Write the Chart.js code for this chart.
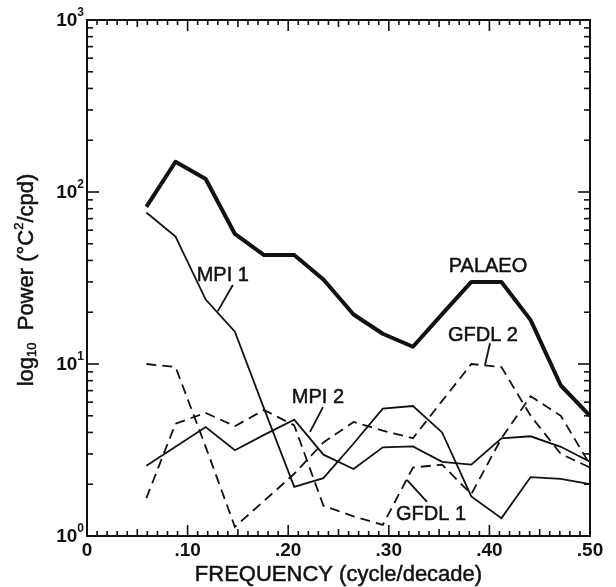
<!DOCTYPE html>
<html><head><meta charset="utf-8">
<script src="https://cdn.jsdelivr.net/npm/chart.js@4.4.0/dist/chart.umd.min.js"></script>
<style>html,body{margin:0;padding:0;background:#fff}#c{display:block}</style>
</head><body>
<div style="width:616px;height:587px;position:relative"><canvas id="c" width="616" height="587"></canvas></div>
<script>
// ---- data ----
const frequency = [0.059, 0.088, 0.118, 0.147, 0.176, 0.206, 0.235, 0.265, 0.294, 0.324, 0.353, 0.382, 0.412, 0.441, 0.471, 0.500];
const palaeo = [82, 150, 119, 57, 43, 43, 31, 19.4, 15, 12.6, 19.5, 30, 30, 18, 7.5, 5.0];
const mpi1   = [76, 55, 23.7, 15.4, 5.5, 1.93, 2.17, 3.45, 5.5, 5.7, 4.0, 1.7, 1.27, 2.2, 2.15, 2.0];
const mpi2   = [2.56, 3.3, 4.3, 3.15, 3.87, 4.75, 2.97, 2.45, 3.28, 3.32, 2.7, 2.6, 3.7, 3.8, 3.3, 2.7];
const gfdl1  = [1.66, 4.5, 5.2, 4.35, 5.4, 4.4, 1.5, 1.3, 1.16, 2.5, 2.6, 1.75, 3.7, 6.5, 5.0, 2.6];
const gfdl2  = [10, 9.6, 3.3, 1.13, 1.6, 2.3, 3.5, 4.6, 4.1, 3.7, 6.1, 10, 9.6, 5.0, 3.0, 2.5];

const xTickValues = [0, 0.1, 0.2, 0.3, 0.4, 0.5];
const xTickLabels = ['0', '.10', '.20', '.30', '.40', '.50'];
const yTickValues = [1, 10, 100, 1000];
const yTickExponents = ['0', '1', '2', '3'];
const xTitle = 'FREQUENCY (cycle/decade)';

// in-plot labels, anchored in data coordinates: [text, x, y, leaderFrom(x,y), leaderTo(x,y)]
const seriesLabels = [
  ['PALAEO', 0.3986, 37.1, null, null],
  ['MPI 1', 0.135, 32.9, [0.145, 28.8], [0.130, 20.3]],
  ['MPI 2', 0.2296, 6.43, [0.2346, 5.62], [0.2217, 4.03]],
  ['GFDL 1', 0.342, 1.34, [0.338, 1.58], [0.318, 2.12]],
  ['GFDL 2', 0.3936, 14.7, [0.4006, 13.2], [0.3956, 9.86]]
];

const INK = '#111';
const FONT = '"Liberation Sans", Arial, Helvetica, sans-serif';
function pts(ys) { return frequency.map((f, i) => ({x: f, y: ys[i]})); }

const decor = {
  id: 'decor',
  afterDraw(chart) {
    const {ctx, chartArea: a, scales: {x, y}} = chart;
    const line = (x1, y1, x2, y2) => { ctx.beginPath(); ctx.moveTo(x1, y1); ctx.lineTo(x2, y2); ctx.stroke(); };
    const heavyText = (t, px, py) => { ctx.fillText(t, px, py); ctx.lineWidth = 0.5; ctx.strokeText(t, px, py); };
    ctx.save();
    ctx.strokeStyle = INK; ctx.fillStyle = INK; ctx.lineCap = 'butt';
    // frame
    ctx.lineWidth = 2;
    ctx.strokeRect(a.left, a.top, a.right - a.left, a.bottom - a.top);
    // x ticks (inward, bottom and top)
    ctx.lineWidth = 1.6;
    for (let i = 0; i <= 50; i++) {
      const px = x.getPixelForValue(i / 100);
      const len = i % 10 === 0 ? 11 : (i % 5 === 0 ? 7 : 5);
      line(px, a.bottom, px, a.bottom - len);
      line(px, a.top, px, a.top + len);
    }
    // y ticks (inward, left and right)
    for (let d = 0; d < 3; d++) {
      for (let m = 1; m <= 9; m++) {
        const py = y.getPixelForValue(m * Math.pow(10, d));
        const len = m === 1 ? 12 : 6;
        line(a.left, py, a.left + len, py);
        line(a.right, py, a.right - len, py);
      }
    }
    // x tick labels
    ctx.font = 'bold 19px ' + FONT;
    ctx.textAlign = 'center'; ctx.textBaseline = 'middle';
    xTickValues.forEach((v, i) => ctx.fillText(xTickLabels[i], x.getPixelForValue(v), a.bottom + 15));
    // y tick labels 10^n
    yTickValues.forEach((v, i) => {
      const py = y.getPixelForValue(v);
      ctx.font = 'bold 12px ' + FONT;
      const ew = ctx.measureText(yTickExponents[i]).width;
      ctx.textAlign = 'right'; ctx.textBaseline = 'middle';
      ctx.fillText(yTickExponents[i], a.left - 3, py - 7);
      ctx.font = 'bold 19px ' + FONT;
      ctx.fillText('10', a.left - 3 - ew, py + 1);
    });
    // x title
    ctx.font = '22px ' + FONT;
    ctx.textAlign = 'center'; ctx.textBaseline = 'middle';
    heavyText(xTitle, (a.left + a.right) / 2, 575);
    // y title (rotated, rich text)
    const parts = [
      {t: 'log', s: 22, dy: 0},
      {t: '10', s: 13, dy: 5},
      {t: '  Power (°C', s: 22, dy: 0},
      {t: '2', s: 13, dy: -8},
      {t: '/cpd)', s: 22, dy: 0}
    ];
    let total = 0;
    parts.forEach(p => { ctx.font = p.s + 'px ' + FONT; p.w = ctx.measureText(p.t).width; total += p.w; });
    ctx.save();
    ctx.translate(27, (a.top + a.bottom) / 2 + 2);
    ctx.rotate(-Math.PI / 2);
    ctx.textAlign = 'left'; ctx.textBaseline = 'middle';
    let cx = -total / 2;
    parts.forEach(p => { ctx.font = p.s + 'px ' + FONT; heavyText(p.t, cx, p.dy); cx += p.w; });
    ctx.restore();
    // series labels with leader lines
    ctx.font = '20px ' + FONT;
    ctx.textAlign = 'center'; ctx.textBaseline = 'middle';
    seriesLabels.forEach(([t, lx, ly, f, to]) => {
      heavyText(t, x.getPixelForValue(lx), y.getPixelForValue(ly));
      ctx.lineWidth = 1.8;
      if (f) line(x.getPixelForValue(f[0]), y.getPixelForValue(f[1]), x.getPixelForValue(to[0]), y.getPixelForValue(to[1]));
    });
    ctx.restore();
  }
};

const common = {pointRadius: 0, tension: 0, borderColor: INK, fill: false};
new Chart(document.getElementById('c'), {
  type: 'line',
  data: {
    datasets: [
      {...common, label: 'PALAEO', data: pts(palaeo), borderWidth: 4, borderJoinStyle: 'round'},
      {...common, label: 'MPI 1', data: pts(mpi1), borderWidth: 1.8},
      {...common, label: 'MPI 2', data: pts(mpi2), borderWidth: 1.8},
      {...common, label: 'GFDL 1', data: pts(gfdl1), borderWidth: 1.8, borderDash: [10, 6]},
      {...common, label: 'GFDL 2', data: pts(gfdl2), borderWidth: 1.8, borderDash: [10, 6]}
    ]
  },
  options: {
    responsive: false, animation: false, devicePixelRatio: 1,
    layout: {padding: {left: 87, right: 26, top: 20, bottom: 51}},
    plugins: {legend: {display: false}, tooltip: {enabled: false}, title: {display: false}},
    scales: {
      x: {type: 'linear', min: 0, max: 0.5, display: false},
      y: {type: 'logarithmic', min: 1, max: 1000, display: false}
    }
  },
  plugins: [decor]
});
</script>
</body></html>
